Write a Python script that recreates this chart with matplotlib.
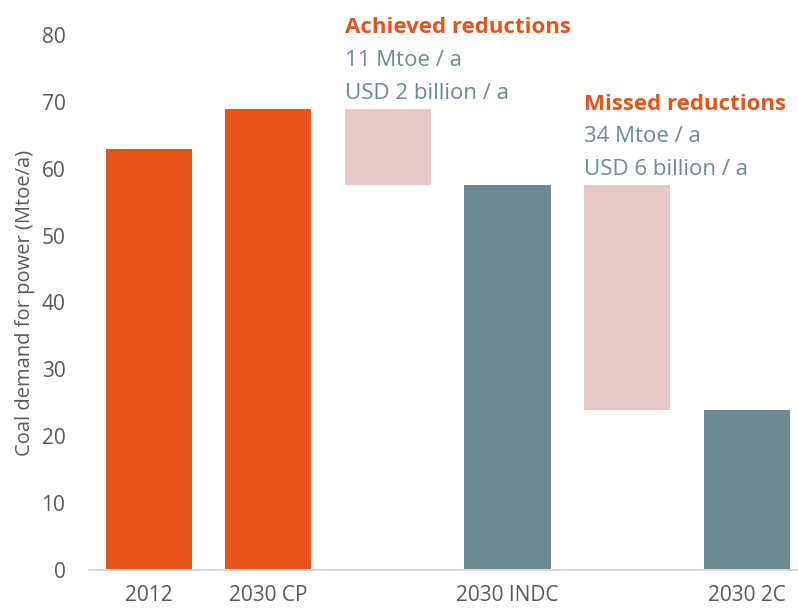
import matplotlib
matplotlib.use("Agg")
import matplotlib.pyplot as plt

plt.rcParams['font.family'] = ['Open Sans', 'DejaVu Sans']

categories = ["2012", "2030 CP", "", "2030 INDC", "", "2030 2C"]
scenario_pos = [0, 1, 3, 5]
scenario_vals = [63, 69, 57.6, 24]
scenario_cols = ["#E8531A", "#E8531A", "#6C8A94", "#6C8A94"]
gap_pos = [2, 4]
gap_bottom = [57.6, 24]
gap_top = [69, 57.6]
gap_titles = ["Achieved reductions", "Missed reductions"]
gap_line1 = ["11 Mtoe / a", "34 Mtoe / a"]
gap_line2 = ["USD 2 billion / a", "USD 6 billion / a"]

fig = plt.figure(figsize=(7.98, 6.10), dpi=100)
ax = fig.add_axes([89/798, 40/610, 709/798, 535/610])

w = 0.72
ax.bar(scenario_pos, scenario_vals, width=w, color=scenario_cols, zorder=2)
ax.bar(gap_pos, [t - b for t, b in zip(gap_top, gap_bottom)], bottom=gap_bottom,
       width=w, color="#E8C9C7", zorder=2)

ax.set_xlim(-0.5, 5.43)
ax.set_ylim(0, 80)
ax.set_yticks(range(0, 81, 10))
ax.set_xticks(range(len(categories)))
ax.set_xticklabels(categories)
ax.tick_params(axis='both', length=0, labelsize=15, labelcolor="#595959")
ax.tick_params(axis='y', pad=17)
ax.tick_params(axis='x', pad=11)
for s in ["top", "right", "left"]:
    ax.spines[s].set_visible(False)
ax.spines["bottom"].set_color("#D9D9D9")
ax.spines["bottom"].set_linewidth(1.5)

ax.set_ylabel("Coal demand for power (Mtoe/a)", fontsize=14.5, color="#595959", labelpad=5)

# annotation text positions (data y for baselines)
title_y = [80.3, 68.8]
l1_y = [75.3, 64.0]
l2_y = [70.4, 59.0]
for i, p in enumerate(gap_pos):
    x0 = p - w / 2
    ax.text(x0, title_y[i], gap_titles[i], color="#E8531A", fontsize=16,
            fontweight="bold", va="baseline", ha="left", clip_on=False)
    ax.text(x0, l1_y[i], gap_line1[i], color="#6C8A94", fontsize=16,
            va="baseline", ha="left", clip_on=False)
    ax.text(x0, l2_y[i], gap_line2[i], color="#6C8A94", fontsize=16,
            va="baseline", ha="left", clip_on=False)

fig.savefig("out.png", dpi=100)
